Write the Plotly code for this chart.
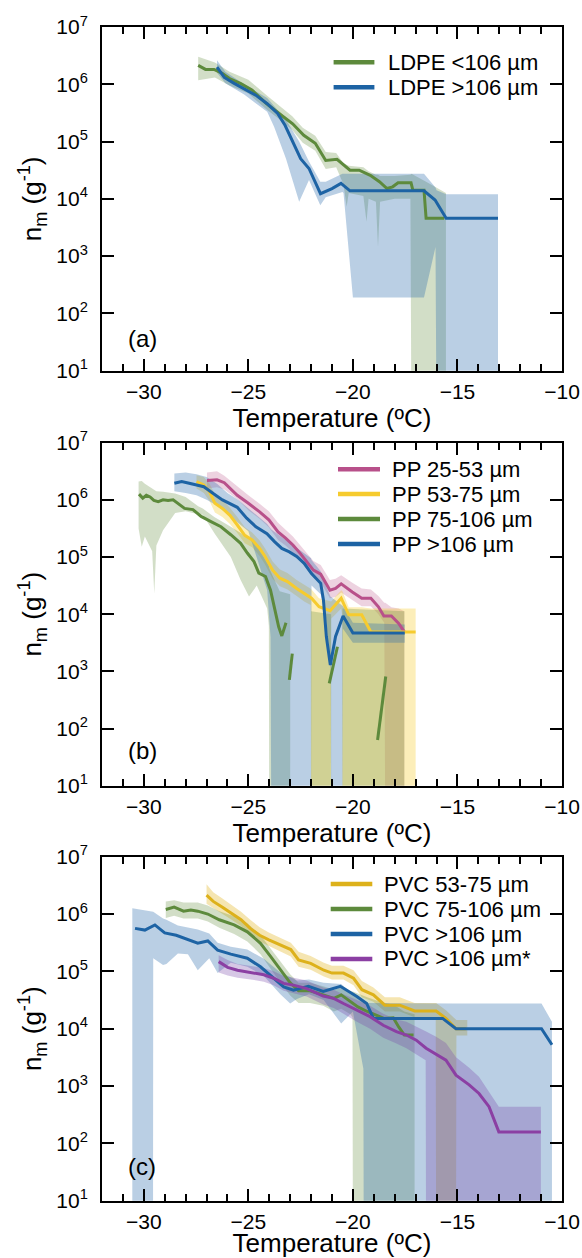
import plotly.graph_objects as go

# ---------------- Data (log10 of n_m) ----------------
# Panel (a) LDPE
LDPE_S_X = [-27.4, -27.05, -26.64, -26.25, -25.9, -25.36, -24.83, -24.12, -23.42, -22.88, -22.35, -21.8, -21.3,
            -20.76, -20.14, -19.7, -19.17, -18.73, -18.37, -18.1, -17.84, -17.22, -17.13, -16.6, -16.5, -15.63]
LDPE_S_Y = [6.33, 6.26, 6.26, 6.19, 6.10, 6.01, 5.90, 5.66, 5.46, 5.31, 5.11, 4.97, 4.67,
            4.69, 4.50, 4.50, 4.41, 4.30, 4.18, 4.21, 4.28, 4.28, 4.15, 4.15, 3.66, 3.66]
LDPE_S_BX = [-27.4, -26.6, -25.9, -25.0, -24.1, -23.4, -22.9, -22.4, -21.8, -21.3, -20.8, -20.45, -20.3, -20.2,
             -19.5, -19.35, -19.25, -18.9, -18.8, -18.7, -18.0, -17.25, -17.2, -16.5, -15.55]
LDPE_S_HI = [6.48, 6.38, 6.22, 6.08, 5.80, 5.58, 5.44, 5.24, 5.10, 4.82, 4.80, 4.62, 4.60, 4.58,
             4.55, 4.50, 4.48, 4.42, 4.42, 4.40, 4.40, 4.42, 4.44, 4.30, 4.10]
LDPE_S_LO = [6.07, 6.12, 5.98, 5.84, 5.55, 5.36, 5.20, 4.98, 4.84, 4.52, 4.55, 4.25, 3.86, 4.10,
             4.05, 3.60, 4.00, 3.95, 3.16, 3.95, 4.00, 4.00, 0.0, 0.0, 0.0]

LDPE_L_X = [-26.5, -26.15, -25.7, -25.2, -24.65, -24.1, -23.6, -23.24, -22.9, -22.5, -22.1, -21.8, -21.55,
            -21.0, -20.57, -20.14, -16.6, -16.07, -15.54, -13.06]
LDPE_L_Y = [6.30, 6.12, 6.02, 5.92, 5.81, 5.66, 5.49, 5.28, 5.02, 4.70, 4.53, 4.30, 4.09,
            4.18, 4.27, 4.14, 4.14, 3.98, 3.66, 3.66]
LDPE_L_BX = [-26.5, -26.1, -25.2, -24.1, -23.77, -23.2, -22.57, -22.1, -21.56, -21.3, -20.5, -20.45, -20.0,
             -16.6, -16.05, -16.0, -15.54, -13.06]
LDPE_L_HI = [6.42, 6.22, 6.00, 5.76, 5.62, 5.38, 5.00, 4.65, 4.30, 4.30, 4.44, 4.44, 4.44,
             4.44, 4.20, 4.15, 4.08, 4.08]
LDPE_L_LO = [6.20, 6.02, 5.82, 5.52, 5.26, 4.70, 3.95, 4.33, 3.89, 4.03, 4.12, 4.10, 2.28,
             2.28, 3.16, 0.0, 0.0, 0.0]

# Panel (b) PP
PP25_X = [-26.98, -26.5, -26.15, -25.88, -25.53, -25.0, -24.46, -24.02, -23.58, -23.22, -22.87, -22.51, -22.16,
          -21.89, -21.54, -21.1, -20.83, -20.56, -20.03, -19.58, -19.14, -18.78, -18.52, -18.16, -17.81, -17.54]
PP25_Y = [6.34, 6.35, 6.30, 6.20, 6.08, 5.94, 5.79, 5.65, 5.44, 5.33, 5.21, 5.06, 4.89,
          4.77, 4.70, 4.42, 4.45, 4.53, 4.39, 4.28, 4.28, 4.13, 3.97, 3.97, 3.84, 3.69]
PP25_BX = [-26.98, -26.5, -26.15, -25.5, -25.0, -24.46, -24.02, -23.58, -23.22, -22.87, -22.51, -22.16, -21.89,
           -21.54, -21.1, -20.83, -20.56, -20.03, -19.58, -19.14, -18.78, -18.5, -18.45, -18.16, -17.81, -17.54]
PP25_HI = [6.48, 6.50, 6.42, 6.22, 6.08, 5.93, 5.80, 5.60, 5.47, 5.36, 5.20, 5.05, 4.93,
           4.86, 4.60, 4.62, 4.68, 4.55, 4.45, 4.43, 4.32, 4.20, 4.20, 4.12, 4.10, 4.05]
PP25_LO = [6.20, 6.22, 6.18, 6.00, 5.82, 5.67, 5.52, 5.30, 5.20, 5.08, 4.93, 4.76, 4.64,
           4.56, 4.28, 4.30, 4.38, 4.25, 4.14, 4.14, 4.00, 3.85, 0.0, 0.0, 0.0, 0.0]

PP53_X = [-27.48, -27.13, -26.86, -26.6, -26.24, -25.88, -25.53, -25.17, -24.82, -24.46, -24.2, -23.84, -23.49,
          -23.13, -22.69, -22.33, -21.98, -21.62, -21.09, -20.56, -20.2, -19.58, -19.14, -17.45, -17.0]
PP53_Y = [6.32, 6.26, 6.14, 5.94, 5.85, 5.73, 5.56, 5.38, 5.30, 5.15, 5.01, 4.77, 4.63,
          4.57, 4.45, 4.36, 4.28, 4.13, 4.06, 4.28, 3.99, 3.99, 3.69, 3.69, 3.69]
PP53_BX = [-27.48, -27.13, -26.86, -26.6, -26.24, -25.88, -25.53, -25.17, -24.82, -24.46, -24.2, -23.84, -23.49,
           -23.13, -22.69, -22.33, -22.02, -22.0, -21.62, -21.06, -21.04, -20.56, -20.52, -20.5, -20.2, -19.58,
           -19.14, -17.45, -17.0]
PP53_HI = [6.43, 6.40, 6.28, 6.10, 6.00, 5.86, 5.70, 5.52, 5.43, 5.29, 5.15, 4.92, 4.78,
           4.72, 4.60, 4.52, 4.44, 4.44, 4.28, 4.22, 4.22, 4.42, 4.40, 4.40, 4.12, 4.12,
           4.10, 4.10, 4.10]
PP53_LO = [6.20, 6.12, 5.98, 5.78, 5.70, 5.58, 5.42, 5.24, 5.17, 5.02, 4.87, 4.62, 4.49,
           4.43, 4.32, 4.22, 4.16, 0.0, 0.0, 0.0, 3.92, 4.10, 4.00, 0.0, 0.0, 0.0,
           0.0, 0.0, 0.0]

PP75_X = [-30.23, -30.05, -29.88, -29.7, -29.52, -29.31, -29.08, -28.84, -28.6, -28.29, -28.05, -27.65, -27.26,
          -26.79, -26.31, -25.84, -25.37, -25.05, -24.73, -24.5, -24.18, -23.94, -23.71, -23.55, -23.4, -23.3,
          -23.2, None, -23.04, -22.9, None, -21.13, -20.74, None, -18.82, -18.43]
PP75_Y = [6.10, 6.03, 6.08, 6.05, 5.99, 5.97, 6.00, 5.99, 6.00, 5.91, 5.85, 5.83, 5.71,
          5.62, 5.53, 5.39, 5.24, 5.07, 4.92, 4.72, 4.66, 4.42, 4.07, 3.78, 3.62, 3.72,
          3.85, None, 2.85, 3.31, None, 2.79, 3.43, None, 1.80, 2.91]
PP75_BX = [-30.25, -30.1, -29.95, -29.6, -29.5, -29.4, -29.08, -28.5, -28.0, -27.4, -27.18, -26.63, -25.84,
           -25.37, -24.97, -24.6, -24.1, -24.02, -24.0, -23.5, -23.0, None, -22.0, -21.04, None, -20.5, -17.54]
PP75_HI = [6.32, 6.33, 6.28, 6.20, 6.18, 6.15, 6.14, 6.11, 6.05, 5.89, 5.85, 5.70, 5.53,
           5.42, 5.33, 5.20, 4.89, 4.85, 4.80, 4.40, 4.35, None, 4.05, 4.00, None, 4.10, 4.05]
PP75_LO = [5.50, 5.18, 5.36, 5.10, 4.36, 5.20, 5.47, 5.77, 5.80, 5.75, 5.74, 5.42, 5.00,
           4.60, 4.31, 4.50, 4.10, 3.80, 0.0, 0.0, 0.0, None, 0.0, 0.0, None, 0.0, 0.0]

PP106_X = [-28.54, -28.19, -27.83, -27.48, -27.13, -26.68, -26.24, -25.53, -25.08, -24.64, -24.11, -23.75, -23.4,
           -23.04, -22.69, -22.33, -21.98, -21.54, -21.41, -21.27, -21.08, -20.83, -20.47, -20.0, -17.52]
PP106_Y = [6.29, 6.32, 6.29, 6.26, 6.23, 6.11, 6.00, 5.87, 5.68, 5.53, 5.41, 5.27, 5.15,
           5.09, 5.01, 4.89, 4.71, 4.54, 4.25, 3.61, 3.11, 3.61, 3.97, 3.67, 3.67]
PP106_BX = [-28.54, -28.0, -27.48, -27.0, -26.5, -26.0, -25.5, -25.0, -24.57, -24.1, -23.94, -23.9, -22.0,
            -21.98, -21.54, -21.3, -21.06, -21.04, -20.5, -20.48, -20.0, -17.52]
PP106_HI = [6.46, 6.48, 6.45, 6.40, 6.28, 6.12, 6.00, 5.85, 5.72, 5.58, 5.50, 5.48, 4.98,
            4.95, 4.75, 4.50, 4.30, 4.30, 4.15, 4.15, 3.85, 3.82]
PP106_LO = [6.15, 6.12, 6.08, 6.00, 5.90, 5.75, 5.60, 5.45, 4.95, 4.42, 3.60, 0.0, 0.0,
            4.50, 4.35, 4.00, 3.00, 0.0, 0.0, 3.75, 3.50, 3.50]

# Panel (c) PVC
PVC53_X = [-27.0, -26.68, -26.24, -25.8, -25.35, -24.91, -24.46, -24.02, -23.49, -22.97, -22.6, -22.02, -21.39,
           -21.0, -20.45, -19.97, -19.57, -19.02, -18.47, -17.76, -17.05, -16.02, -15.55, -15.07, -14.6]
PVC53_Y = [6.33, 6.22, 6.12, 6.01, 5.90, 5.75, 5.63, 5.55, 5.46, 5.38, 5.20, 5.14, 5.02,
           4.97, 4.97, 4.88, 4.68, 4.59, 4.41, 4.41, 4.31, 4.31, 4.18, 4.00, 4.00]
PVC53_BX = [-27.0, -26.68, -26.24, -25.8, -25.35, -24.91, -24.46, -24.02, -23.49, -22.97, -22.6, -22.02, -21.39,
            -21.0, -20.45, -19.97, -19.57, -19.02, -18.47, -17.76, -17.05, -16.04, -16.02, -15.55, -15.07, -15.05,
            -14.53]
PVC53_HI = [6.52, 6.38, 6.27, 6.15, 6.04, 5.90, 5.77, 5.68, 5.59, 5.50, 5.34, 5.27, 5.15,
            5.10, 5.10, 5.02, 4.83, 4.72, 4.55, 4.55, 4.45, 4.45, 4.45, 4.32, 4.15, 4.15,
            4.15]
PVC53_LO = [6.18, 6.10, 6.00, 5.90, 5.79, 5.63, 5.52, 5.44, 5.35, 5.26, 5.08, 5.03, 4.91,
            4.86, 4.86, 4.76, 4.55, 4.47, 4.30, 4.30, 4.20, 4.20, 0.0, 0.0, 0.0, 3.88,
            3.88]

PVC75_X = [-28.95, -28.55, -28.1, -27.75, -27.42, -26.94, -26.39, -25.68, -25.05, -24.42, -23.94, -23.47, -23.0,
           -22.6, -22.05, -21.42, -20.91, -20.56, -20.12, -19.76, -19.32, -18.96, -18.52, -18.07, -17.81, -17.54,
           -17.1]
PVC75_Y = [6.08, 6.12, 6.05, 6.07, 6.05, 6.00, 5.90, 5.81, 5.69, 5.49, 5.26, 5.02, 4.80,
           4.66, 4.66, 4.59, 4.53, 4.59, 4.47, 4.38, 4.30, 4.24, 4.18, 4.19, 4.03, 3.89,
           3.89]
PVC75_BX = [-28.95, -28.55, -28.1, -27.42, -26.94, -26.39, -25.68, -25.05, -24.42, -23.94, -23.47, -23.0, -22.6,
            -22.05, -21.42, -20.91, -20.56, -20.12, -20.02, -20.0, -19.32, -18.52, -18.07, -17.54, -17.05]
PVC75_HI = [6.22, 6.24, 6.20, 6.20, 6.15, 6.05, 5.96, 5.84, 5.63, 5.40, 5.16, 4.95, 4.80,
            4.80, 4.74, 4.68, 4.72, 4.65, 4.65, 4.65, 4.55, 4.45, 4.42, 4.30, 4.25]
PVC75_LO = [5.93, 5.97, 5.92, 5.92, 5.87, 5.76, 5.65, 5.52, 5.30, 5.05, 4.80, 4.58, 4.45,
            4.45, 4.40, 4.30, 4.35, 4.25, 4.20, 0.0, 0.0, 0.0, 0.0, 0.0, 0.0]

PVC106_X = [-30.42, -29.95, -29.47, -29.0, -28.45, -27.97, -27.42, -26.94, -26.47, -25.84, -25.05, -24.42, -23.86,
            -23.31, -22.84, -22.13, -21.42, -20.6, -19.81, -19.34, -19.02, -15.71, -15.07, -10.98, -10.48]
PVC106_Y = [5.75, 5.72, 5.81, 5.67, 5.63, 5.56, 5.49, 5.53, 5.37, 5.30, 5.23, 5.08, 4.91,
            4.73, 4.67, 4.74, 4.65, 4.74, 4.56, 4.44, 4.18, 4.18, 4.00, 4.00, 3.72]
PVC106_BX = [-30.55, -29.95, -29.56, -29.55, -29.08, -28.92, -28.37, -27.89, -27.42, -26.87, -26.47, -25.84, -25.05,
             -24.26, -23.47, -23.0, -22.68, -22.1, -21.4, -20.56, -20.0, -19.5, -19.48, -15.2, -10.98, -10.48]
PVC106_HI = [6.10, 6.07, 6.04, 6.04, 5.92, 5.90, 5.80, 5.76, 5.73, 5.66, 5.50, 5.43, 5.38,
             5.22, 4.98, 4.90, 4.84, 4.86, 4.80, 4.78, 4.60, 4.50, 4.45, 4.44, 4.44, 4.12]
PVC106_LO = [0.0, 0.0, 0.0, 5.23, 5.11, 5.13, 5.31, 5.30, 5.02, 5.23, 4.97, 5.15, 5.08,
             4.92, 4.60, 4.44, 4.52, 4.60, 4.50, 4.09, 4.30, 3.30, 0.0, 0.0, 0.0, 0.0]

PVCS_X = [-26.42, -25.99, -25.52, -24.89, -24.26, -23.79, -23.31, -22.84, -22.21, -21.42, -20.92, -20.45, -19.81,
          -19.18, -18.55, -17.92, -17.44, -16.97, -16.5, -16.02, -15.55, -15.07, -14.44, -13.97, -13.49, -13.02,
          -11.01]
PVCS_Y = [5.17, 5.07, 5.02, 4.98, 4.94, 4.88, 4.79, 4.76, 4.70, 4.57, 4.53, 4.44, 4.33,
          4.21, 4.06, 3.95, 3.89, 3.80, 3.66, 3.56, 3.45, 3.19, 3.02, 2.87, 2.64, 2.20,
          2.20]
PVCS_BX = [-26.42, -25.99, -25.52, -24.89, -24.26, -23.79, -23.31, -22.84, -22.21, -21.42, -20.92, -20.45, -19.81,
           -19.18, -18.55, -17.92, -17.44, -16.97, -16.52, -16.5, -16.02, -15.55, -15.07, -14.44, -13.97, -13.49,
           -13.02, -11.01]
PVCS_HI = [5.28, 5.20, 5.13, 5.10, 5.06, 5.00, 4.92, 4.89, 4.84, 4.72, 4.68, 4.60, 4.50,
           4.40, 4.26, 4.16, 4.12, 4.04, 3.95, 3.95, 3.86, 3.75, 3.50, 3.32, 3.16, 2.90,
           2.64, 2.64]
PVCS_LO = [4.98, 4.93, 4.89, 4.86, 4.82, 4.76, 4.66, 4.62, 4.56, 4.42, 4.36, 4.26, 4.12,
           4.00, 3.84, 3.74, 3.66, 3.56, 3.45, 0.0, 0.0, 0.0, 0.0, 0.0, 0.0, 0.0,
           0.0, 0.0]

X_TICKS = [-30, -25, -20, -15, -10]
Y_EXP = [1, 2, 3, 4, 5, 6, 7]
PANEL_LABELS = ['(a)', '(b)', '(c)']

GREEN = '#5d8a3c'
BLUE = '#1d63a4'
PINK = '#b8508a'
YELLOW = '#f6cb2e'
GOLD = '#ddb11b'
PURPLE = '#8b3fa3'

FILL = {
    GREEN: 'rgba(95,135,55,0.28)',
    BLUE: 'rgba(40,105,170,0.32)',
    PINK: 'rgba(185,80,135,0.26)',
    YELLOW: 'rgba(245,205,50,0.34)',
    GOLD: 'rgba(225,180,25,0.34)',
    PURPLE: 'rgba(120,70,170,0.30)',
}


def lin(vals):
    return [None if v is None else 10 ** v for v in vals]


def polygon(bx, lo, hi):
    xs, ys = [], []
    seg = []
    for x, l, h in list(zip(bx, lo, hi)) + [(None, None, None)]:
        if x is None:
            if seg:
                sx = [s[0] for s in seg]
                xs += sx + sx[::-1] + [None]
                ys += lin([s[2] for s in seg]) + lin([s[1] for s in seg][::-1]) + [None]
            seg = []
        else:
            seg.append((x, l, h))
    return xs, ys


fig = go.Figure()

panels = [
    ('x', 'y', [
        ('LDPE <106 µm', GREEN, LDPE_S_X, LDPE_S_Y, LDPE_S_BX, LDPE_S_LO, LDPE_S_HI),
        ('LDPE >106 µm', BLUE, LDPE_L_X, LDPE_L_Y, LDPE_L_BX, LDPE_L_LO, LDPE_L_HI),
    ]),
    ('x2', 'y2', [
        ('PP 25-53 µm', PINK, PP25_X, PP25_Y, PP25_BX, PP25_LO, PP25_HI),
        ('PP 53-75 µm', YELLOW, PP53_X, PP53_Y, PP53_BX, PP53_LO, PP53_HI),
        ('PP 75-106 µm', GREEN, PP75_X, PP75_Y, PP75_BX, PP75_LO, PP75_HI),
        ('PP >106 µm', BLUE, PP106_X, PP106_Y, PP106_BX, PP106_LO, PP106_HI),
    ]),
    ('x3', 'y3', [
        ('PVC 53-75 µm', GOLD, PVC53_X, PVC53_Y, PVC53_BX, PVC53_LO, PVC53_HI),
        ('PVC 75-106 µm', GREEN, PVC75_X, PVC75_Y, PVC75_BX, PVC75_LO, PVC75_HI),
        ('PVC >106 µm', BLUE, PVC106_X, PVC106_Y, PVC106_BX, PVC106_LO, PVC106_HI),
        ('PVC >106 µm*', PURPLE, PVCS_X, PVCS_Y, PVCS_BX, PVCS_LO, PVCS_HI),
    ]),
]

for xa, ya, series in panels:
    for name, col, x, y, bx, lo, hi in series:
        px, py = polygon(bx, lo, hi)
        fig.add_trace(go.Scatter(x=px, y=py, xaxis=xa, yaxis=ya, mode='lines', fill='toself',
                                 fillcolor=FILL[col], line=dict(width=0), showlegend=False,
                                 hoverinfo='skip'))
    for name, col, x, y, bx, lo, hi in series:
        fig.add_trace(go.Scatter(x=x, y=lin(y), xaxis=xa, yaxis=ya, mode='lines', name=name,
                                 line=dict(color=col, width=3), showlegend=False, connectgaps=False))

FONT = 'Liberation Sans, Arial, sans-serif'
PLOT_T, PLOT_B, PLOT_L, PLOT_R = 27, 57, 102, 20
H = 1258
W = 582
PH = H - PLOT_T - PLOT_B
PW = W - PLOT_L - PLOT_R


def ydom(top, bottom):
    return [max(0.0, (H - PLOT_B - bottom) / PH), min(1.0, (H - PLOT_B - top) / PH)]


def px2paper(x, y):
    return (x - PLOT_L) / PW, (H - PLOT_B - y) / PH


doms = [ydom(26.7, 370.7), ydom(442.7, 785.7), ydom(856.7, 1200.7)]

xax = dict(range=[-32, -10], tickmode='array', tickvals=X_TICKS, ticks='inside', ticklen=12, tickwidth=1.6,
           tickcolor='black', showline=True, linecolor='black', linewidth=2, mirror='ticks',
           showgrid=False, zeroline=False,
           minor=dict(dtick=1, tick0=0, ticks='inside', ticklen=7, tickwidth=1.5, tickcolor='black',
                      showgrid=False),
           tickfont=dict(size=21, color='black', family=FONT), ticklabelstandoff=1,
           title=dict(text='Temperature (ºC)', font=dict(size=26, color='black', family=FONT), standoff=1))
yax = dict(type='log', range=[1, 7], tickmode='array', tickvals=[10 ** k for k in Y_EXP],
           ticktext=['10<sup>%d</sup>' % k for k in Y_EXP], ticks='inside', ticklen=12, tickwidth=1.6,
           tickcolor='black', showline=True, linecolor='black', linewidth=2, mirror='ticks',
           showgrid=False, zeroline=False, tickfont=dict(size=21, color='black', family=FONT),
           ticklabelstandoff=8,
           title=dict(text='n<sub>m</sub> (g<sup>-1</sup>)', font=dict(size=26, color='black', family=FONT),
                      standoff=7))

layout = dict(width=W, height=H, margin=dict(l=PLOT_L, r=PLOT_R, t=PLOT_T, b=PLOT_B, autoexpand=False),
              paper_bgcolor='white', plot_bgcolor='white', font=dict(family=FONT, color='black'),
              showlegend=False)
for i, (xa, ya, _) in enumerate(panels):
    xk = 'xaxis' if i == 0 else 'xaxis%d' % (i + 1)
    yk = 'yaxis' if i == 0 else 'yaxis%d' % (i + 1)
    layout[xk] = dict(xax, anchor=ya, domain=[0, 1])
    layout[yk] = dict(yax, anchor=xa, domain=doms[i])
fig.update_layout(**layout)

# Legend drawn as sample lines + text (rows as in the reference)
leg_rows = [[62.3, 87.3], [469.3, 494.0, 519.0, 544.0], [884.0, 909.0, 934.0, 959.0]]
leg_x = [(333.6, 374.4, 385.5), (338.0, 380.0, 390.0), (330.7, 372.3, 381.7)]
for i, (xa, ya, series) in enumerate(panels):
    x0, x1, xt = leg_x[i]
    for row, s in zip(leg_rows[i], series):
        name, col = s[0], s[1]
        a0, yy = px2paper(x0, row)
        a1, _ = px2paper(x1, row)
        at, _ = px2paper(xt, row)
        fig.add_shape(type='line', xref='paper', yref='paper', x0=a0, x1=a1, y0=yy, y1=yy,
                      line=dict(color=col, width=4.5))
        fig.add_annotation(x=at, y=yy, xref='paper', yref='paper', text=name, showarrow=False,
                           font=dict(size=22, color='black', family=FONT), xanchor='left', yanchor='middle')

lab_y = [338, 750, 1166]
for i, t in enumerate(PANEL_LABELS):
    ax, ay = px2paper(142, lab_y[i])
    fig.add_annotation(x=ax, y=ay, xref='paper', yref='paper', text=t, showarrow=False,
                       font=dict(size=24, color='black', family=FONT), xanchor='center', yanchor='middle')

fig.write_html('out.html')
